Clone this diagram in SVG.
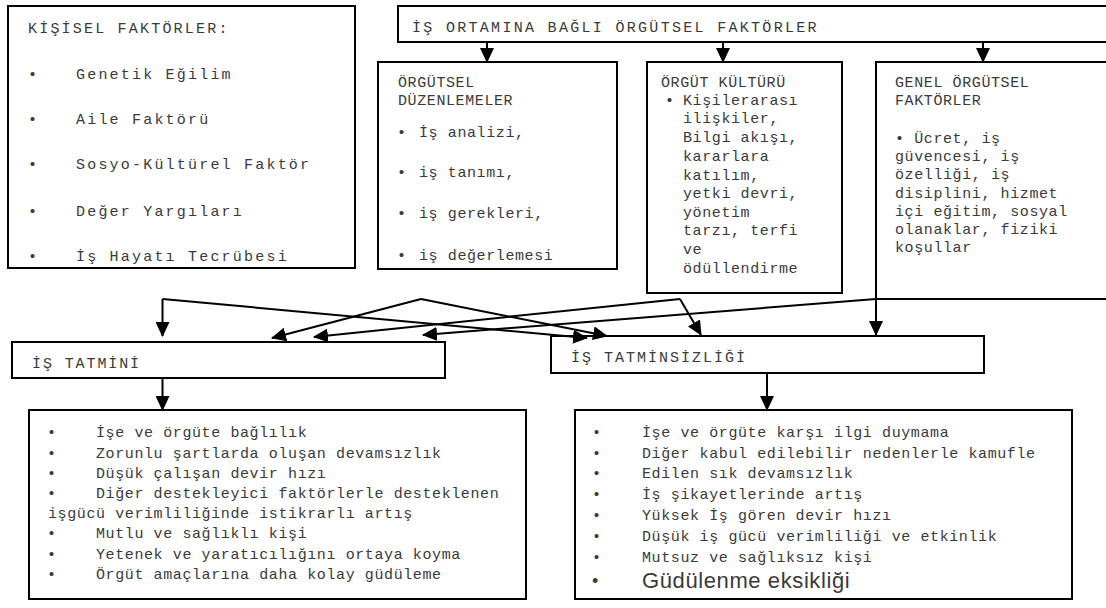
<svg xmlns="http://www.w3.org/2000/svg" width="1106" height="608" viewBox="0 0 1106 608">
<style>
.box{fill:#fff;stroke:#000;stroke-width:2}
.t{font-family:"Liberation Mono","Courier New",monospace;font-size:15px;fill:#3a3a3a;letter-spacing:0.6px}
.w{letter-spacing:2.2px}
.s{font-family:"Liberation Sans",Arial,sans-serif;fill:#3a3a3a}
.c{fill:none;stroke:#000;stroke-width:2}
</style>
<defs>
<marker id="ah" viewBox="0 0 15 14" refX="14" refY="7" markerWidth="15" markerHeight="14" markerUnits="userSpaceOnUse" orient="auto"><path d="M0,0L15,7L0,14z" fill="#000"/></marker>
<clipPath id="kclip"><rect x="9" y="7" width="345" height="257"/></clipPath>
</defs>
<rect width="1106" height="608" fill="#fff"/>

<g id="kisisel">
<rect class="box" x="8" y="6" width="347" height="262"/>
<g clip-path="url(#kclip)">
<text class="t w" x="28" y="33">KİŞİSEL FAKTÖRLER:</text>
<text class="t" x="28" y="79">•</text><text class="t w" x="76" y="79">Genetik Eğilim</text>
<text class="t" x="28" y="124">•</text><text class="t w" x="76" y="124">Aile Faktörü</text>
<text class="t" x="28" y="169">•</text><text class="t w" x="76" y="169">Sosyo-Kültürel Faktör</text>
<text class="t" x="28" y="216">•</text><text class="t w" x="76" y="216">Değer Yargıları</text>
<text class="t" x="28" y="261">•</text><text class="t w" x="76" y="261">İş Hayatı Tecrübesi</text>
</g>
</g>

<g id="header">
<rect class="box" x="398" y="6" width="720" height="36"/>
<text class="t" style="letter-spacing:2.3px" x="412" y="32">İŞ ORTAMINA BAĞLI ÖRGÜTSEL FAKTÖRLER</text>
</g>

<g id="duzenlemeler">
<rect class="box" x="378" y="62" width="239" height="207"/>
<text class="t" x="398" y="87">ÖRGÜTSEL</text>
<text class="t" x="398" y="105">DÜZENLEMELER</text>
<text class="t" x="397" y="137">•</text><text class="t" x="419" y="137">İş analizi,</text>
<text class="t" x="397" y="177">•</text><text class="t" x="419" y="177">iş tanımı,</text>
<text class="t" x="397" y="218">•</text><text class="t" x="419" y="218">iş gerekleri,</text>
<text class="t" x="397" y="260">•</text><text class="t" x="419" y="260">iş değerlemesi</text>
</g>

<g id="kultur">
<rect class="box" x="647" y="62" width="195" height="231"/>
<text class="t" x="661" y="87">ÖRGÜT KÜLTÜRÜ</text>
<text class="t" x="665" y="105">•</text>
<text class="t" x="683" y="105">Kişilerarası</text>
<text class="t" x="683" y="123">ilişkiler,</text>
<text class="t" x="683" y="142">Bilgi akışı,</text>
<text class="t" x="683" y="161">kararlara</text>
<text class="t" x="683" y="180">katılım,</text>
<text class="t" x="683" y="198">yetki devri,</text>
<text class="t" x="683" y="217">yönetim</text>
<text class="t" x="683" y="235">tarzı, terfi</text>
<text class="t" x="683" y="254">ve</text>
<text class="t" x="683" y="273">ödüllendirme</text>
</g>

<g id="genel">
<rect class="box" x="876" y="62" width="240" height="237"/>
<text class="t" x="895" y="87">GENEL ÖRGÜTSEL</text>
<text class="t" x="895" y="105">FAKTÖRLER</text>
<text class="t" x="895" y="143">• Ücret, iş</text>
<text class="t" x="895" y="161">güvencesi, iş</text>
<text class="t" x="895" y="179">özelliği, iş</text>
<text class="t" x="895" y="198">disiplini, hizmet</text>
<text class="t" x="895" y="216">içi eğitim, sosyal</text>
<text class="t" x="895" y="234">olanaklar, fiziki</text>
<text class="t" x="895" y="252">koşullar</text>
</g>

<g id="tatmin">
<rect class="box" x="12" y="342" width="433" height="36"/>
<text class="t" style="letter-spacing:1.9px" x="32" y="368">İŞ TATMİNİ</text>
</g>

<g id="tatminsizlik">
<rect class="box" x="551" y="336" width="433" height="37"/>
<text class="t" style="letter-spacing:2px" x="571" y="362">İŞ TATMİNSİZLİĞİ</text>
</g>

<g id="tatmin-sonuclar">
<rect class="box" x="29" y="410" width="497" height="189"/>
<text class="t" x="47" y="437">•</text><text class="t" x="96" y="437">İşe ve örgüte bağlılık</text>
<text class="t" x="47" y="458">•</text><text class="t" x="96" y="458">Zorunlu şartlarda oluşan devamsızlık</text>
<text class="t" x="47" y="478">•</text><text class="t" x="96" y="478">Düşük çalışan devir hızı</text>
<text class="t" x="47" y="498">•</text><text class="t" x="96" y="498">Diğer destekleyici faktörlerle desteklenen</text>
<text class="t" x="48" y="518">işgücü verimliliğinde istikrarlı artış</text>
<text class="t" x="47" y="538">•</text><text class="t" x="96" y="538">Mutlu ve sağlıklı kişi</text>
<text class="t" x="47" y="559">•</text><text class="t" x="96" y="559">Yetenek ve yaratıcılığını ortaya koyma</text>
<text class="t" x="47" y="579">•</text><text class="t" x="96" y="579">Örgüt amaçlarına daha kolay güdüleme</text>
</g>

<g id="tatminsizlik-sonuclar">
<rect class="box" x="575" y="410" width="497" height="189"/>
<text class="t" x="592" y="437">•</text><text class="t" x="642" y="437">İşe ve örgüte karşı ilgi duymama</text>
<text class="t" x="592" y="458">•</text><text class="t" x="642" y="458">Diğer kabul edilebilir nedenlerle kamufle</text>
<text class="t" x="592" y="478">•</text><text class="t" x="642" y="478">Edilen sık devamsızlık</text>
<text class="t" x="592" y="499">•</text><text class="t" x="642" y="499">İş şikayetlerinde artış</text>
<text class="t" x="592" y="520">•</text><text class="t" x="642" y="520">Yüksek İş gören devir hızı</text>
<text class="t" x="592" y="541">•</text><text class="t" x="642" y="541">Düşük iş gücü verimliliği ve etkinlik</text>
<text class="t" x="592" y="562">•</text><text class="t" x="642" y="562">Mutsuz ve sağlıksız kişi</text>
<text class="s" style="font-size:18px" x="592" y="587">•</text><text class="s" style="font-size:22px;letter-spacing:0.6px" x="642" y="588">Güdülenme eksikliği</text>
</g>

<g id="connectors" class="c">
<path class="c" d="M487,42V62" marker-end="url(#ah)"/>
<path class="c" d="M723,42V62" marker-end="url(#ah)"/>
<path class="c" d="M983,42V62" marker-end="url(#ah)"/>
<path class="c" d="M162.5,299V336" marker-end="url(#ah)"/>
<path class="c" d="M162.5,299L587,338" marker-end="url(#ah)"/>
<path class="c" d="M421,299L272,338" marker-end="url(#ah)"/>
<path class="c" d="M421,299L607,336" marker-end="url(#ah)"/>
<path class="c" d="M680,299L314,337" marker-end="url(#ah)"/>
<path class="c" d="M680,299L701,335" marker-end="url(#ah)"/>
<path class="c" d="M876,299L423,335" marker-end="url(#ah)"/>
<path class="c" d="M876,299V335" marker-end="url(#ah)"/>
<path class="c" d="M162.5,378V410" marker-end="url(#ah)"/>
<path class="c" d="M767,373V410" marker-end="url(#ah)"/>
</g>
</svg>
